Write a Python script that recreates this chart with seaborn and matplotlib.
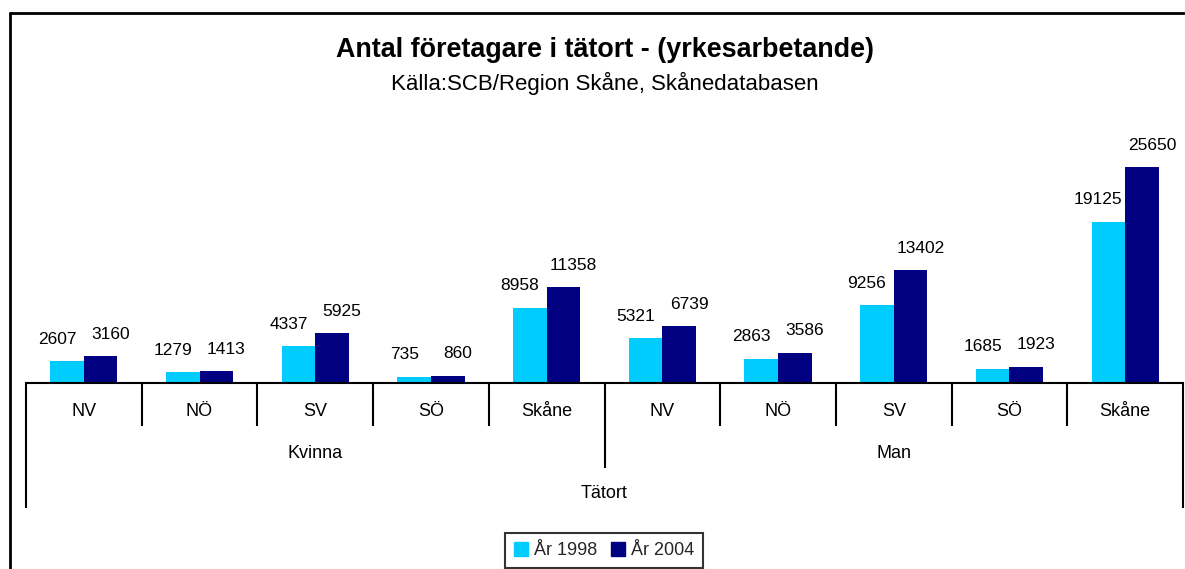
import matplotlib
matplotlib.use("Agg")
import matplotlib.pyplot as plt
from matplotlib.lines import Line2D
from matplotlib.transforms import blended_transform_factory
import seaborn as sns
import pandas as pd

# ---- data ----
groups = ["Kvinna", "Man"]
regions = ["NV", "NÖ", "SV", "SÖ", "Skåne"]
years = ["År 1998", "År 2004"]
kvinna_1998 = [2607, 1279, 4337, 735, 8958]
kvinna_2004 = [3160, 1413, 5925, 860, 11358]
man_1998 = [5321, 2863, 9256, 1685, 19125]
man_2004 = [6739, 3586, 13402, 1923, 25650]
outer_label = "Tätort"
title = "Antal företagare i tätort - (yrkesarbetande)"
subtitle = "Källa:SCB/Region Skåne, Skånedatabasen"

light = "#00CCFF"
dark = "#000080"

rows = []
series = {("Kvinna", years[0]): kvinna_1998, ("Kvinna", years[1]): kvinna_2004,
          ("Man", years[0]): man_1998, ("Man", years[1]): man_2004}
keys = []
for g in groups:
    for r in regions:
        keys.append(f"{g}|{r}")
for (g, y), vals in series.items():
    for r, v in zip(regions, vals):
        rows.append({"key": f"{g}|{r}", "year": y, "value": v})
df = pd.DataFrame(rows)

sns.set_theme(style="white")
plt.rcParams["font.family"] = ["Liberation Sans", "DejaVu Sans"]

W, H = 1185, 569
fig = plt.figure(figsize=(W / 100, H / 100), dpi=100)
ax_left, ax_right = 26, 1183
ax_top, ax_base = 140, 383
ax = fig.add_axes([ax_left / W, (H - ax_base) / H, (ax_right - ax_left) / W, (ax_base - ax_top) / H])

sns.barplot(data=df, x="key", y="value", hue="year", order=keys, hue_order=years,
            palette=[light, dark], width=0.58, saturation=1, dodge=True,
            legend=False, ax=ax, errorbar=None, linewidth=0)

scale = 216 / 25650  # px per unit
ax.set_ylim(0, (ax_base - ax_top) / scale)
ax.set_xlim(-0.5, len(keys) - 0.5)

# data labels, spread apart slightly as in the reference
for ci, c in enumerate(ax.containers):
    dx = -10 if ci == 0 else 10
    for rect, v in zip(c.patches, c.datavalues):
        ax.annotate(f"{int(v)}", xy=(rect.get_x() + rect.get_width() / 2, rect.get_height()),
                    xytext=(dx, 22), textcoords="offset pixels", ha="center", va="center",
                    fontsize=12.5, color="black")

for s in ["top", "right", "left"]:
    ax.spines[s].set_visible(False)
ax.spines["bottom"].set_color("black")
ax.spines["bottom"].set_linewidth(1.5)
ax.set_xticks([])
ax.set_yticks([])
ax.set_xlabel("")
ax.set_ylabel("")

axh = ax_base - ax_top
tr = blended_transform_factory(ax.transData, ax.transAxes)

# separators
n = len(keys)
for i in range(n + 1):
    x = i - 0.5
    if i == 0 or i == n:
        d = 125
    elif i == n // 2:
        d = 85
    else:
        d = 43
    ax.plot([x, x], [0, -d / axh], transform=tr, color="black", lw=1.5, clip_on=False,
            solid_capstyle="butt")

# category labels
for i, k in enumerate(keys):
    ax.text(i, -(411 - ax_base) / axh, k.split("|")[1], transform=tr, ha="center",
            va="center", fontsize=13, color="black")
for gi, g in enumerate(groups):
    xc = gi * len(regions) + (len(regions) - 1) / 2
    ax.text(xc, -(453 - ax_base) / axh, g, transform=tr, ha="center", va="center",
            fontsize=13, color="black")
ax.text((n - 1) / 2, -(494 - ax_base) / axh, outer_label, transform=tr, ha="center",
        va="center", fontsize=13, color="black")

fig.text(605 / W, 1 - 50 / H, title, ha="center", va="center", fontsize=19.4,
         fontweight="bold", color="black")
fig.text(605 / W, 1 - 83 / H, subtitle, ha="center", va="center", fontsize=16,
         color="black")

# outer frame (left and top visible)
fig.add_artist(Line2D([10 / W, 10 / W], [0, 1 - 13 / H], transform=fig.transFigure,
                      color="black", lw=2))
fig.add_artist(Line2D([10 / W, 1], [1 - 13 / H, 1 - 13 / H], transform=fig.transFigure,
                      color="black", lw=2))

handles = [Line2D([], [], marker="s", linestyle="none", markersize=9.5, color=light, label=years[0]),
           Line2D([], [], marker="s", linestyle="none", markersize=9.5, color=dark, label=years[1])]
leg = fig.legend(handles=handles, loc="upper center", bbox_to_anchor=(604 / W, 1 - 533 / H),
                 ncol=2, frameon=True, fancybox=False, fontsize=13, handletextpad=0.3,
                 columnspacing=0.8, borderpad=0.5, handlelength=0.8, borderaxespad=0)
leg.get_frame().set_edgecolor("black")
leg.get_frame().set_linewidth(1.5)

fig.savefig("out.png", dpi=100, facecolor="white")
